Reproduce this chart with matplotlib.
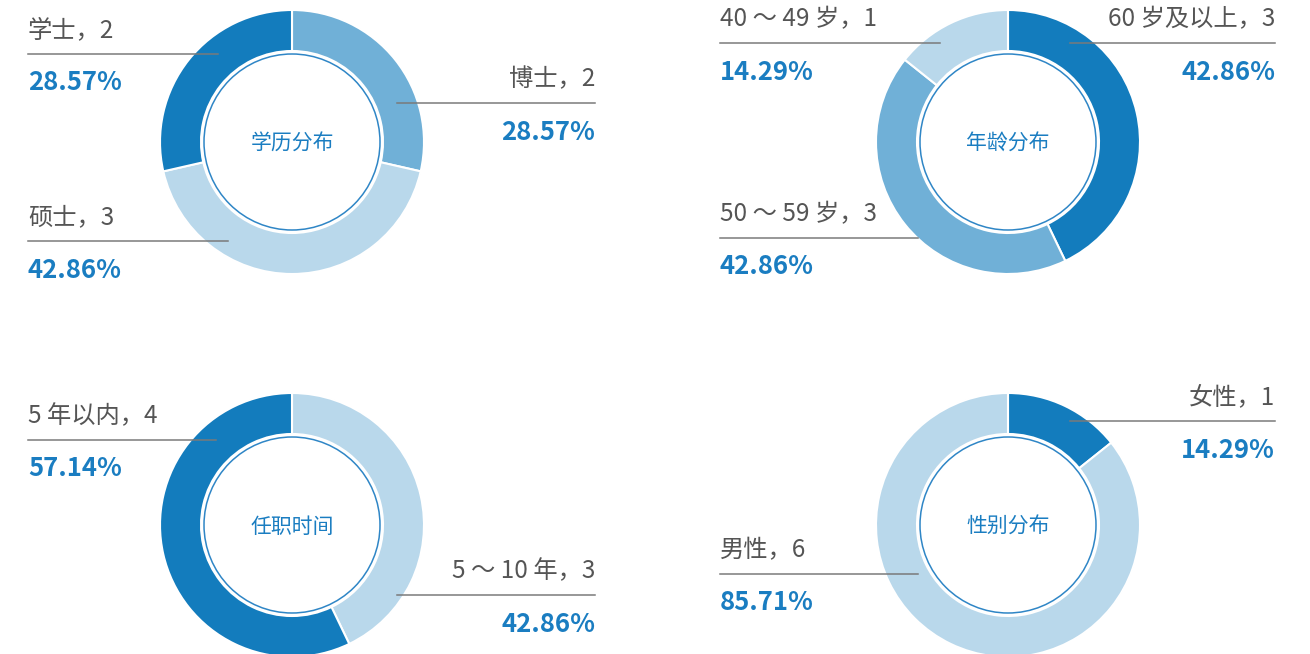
import matplotlib.pyplot as plt

plt.rcParams['font.family'] = ['Noto Sans CJK SC', 'DejaVu Sans']

W, H = 1310, 654

DARK = '#137cbd'
MID = '#70b0d7'
LIGHT = '#b9d8eb'
BLUE_TXT = '#1a7dc1'
GRAY_TXT = '#555555'
GRAY_LINE = '#7a7a7a'

# each chart: title, labels, values, colors (clockwise from 12 o'clock)
titles = ['学历分布', '年龄分布', '任职时间', '性别分布']
labels = [
    ['博士', '硕士', '学士'],
    ['60 岁及以上', '50 ～ 59 岁', '40 ～ 49 岁'],
    ['5 ～ 10 年', '5 年以内'],
    ['女性', '男性'],
]
values = [
    [2, 3, 2],
    [3, 3, 1],
    [3, 4],
    [1, 6],
]
colors = [
    [MID, LIGHT, DARK],
    [DARK, MID, LIGHT],
    [LIGHT, DARK],
    [DARK, LIGHT],
]

# layout (pixels, y from top)
centers = [(292, 142), (1008, 142), (292, 525), (1008, 525)]
R_OUT, RING_W, R_LINE = 132, 41, 88
# per label: side ('l' / 'r'), y of the leader line, inner end x of the line
label_pos = [
    [('r', 103, 397), ('l', 241, 228), ('l', 54, 218)],
    [('r', 43, 1070), ('l', 238, 918), ('l', 43, 940)],
    [('r', 595, 397), ('l', 440, 216)],
    [('r', 421, 1070), ('l', 574, 918)],
]
left_x = {0: 28, 1: 720}
right_x = {0: 595, 1: 1275}

fig = plt.figure(figsize=(W / 100, H / 100), dpi=100)
ax = fig.add_axes([0, 0, 1, 1])

for i, (cx, cy) in enumerate(centers):
    col = i % 2
    cyd = H - cy
    ax.pie(values[i], colors=colors[i], startangle=90, counterclock=False,
           center=(cx, cyd), radius=R_OUT,
           wedgeprops=dict(width=RING_W, edgecolor='white', linewidth=1.5))
    circ = plt.Circle((cx, cyd), R_LINE, fill=False, edgecolor='#2f86c6', linewidth=1.1)
    ax.add_patch(circ)
    ax.text(cx, cyd - 2, titles[i], ha='center', va='center', fontsize=15, color=BLUE_TXT)
    total = sum(values[i])
    for lab, v, (side, ly, ex) in zip(labels[i], values[i], label_pos[i]):
        yd = H - ly
        pct = f'{v / total * 100:.2f}%'
        if side == 'l':
            x0, x1 = left_x[col], ex
            tx, ha = x0, 'left'
        else:
            x0, x1 = ex, right_x[col]
            tx, ha = x1, 'right'
        ax.plot([x0, x1], [yd, yd], color=GRAY_LINE, linewidth=1.1)
        ax.text(tx, yd + 24, f'{lab}，{v}', ha=ha, va='center', fontsize=17.5, color=GRAY_TXT)
        ax.text(tx, yd - 29, pct, ha=ha, va='center', fontsize=18.5, color=BLUE_TXT,
                fontweight='bold')

ax.set_xlim(0, W)
ax.set_ylim(0, H)
ax.set_aspect('equal')
ax.axis('off')

fig.savefig('out.png', dpi=100)
